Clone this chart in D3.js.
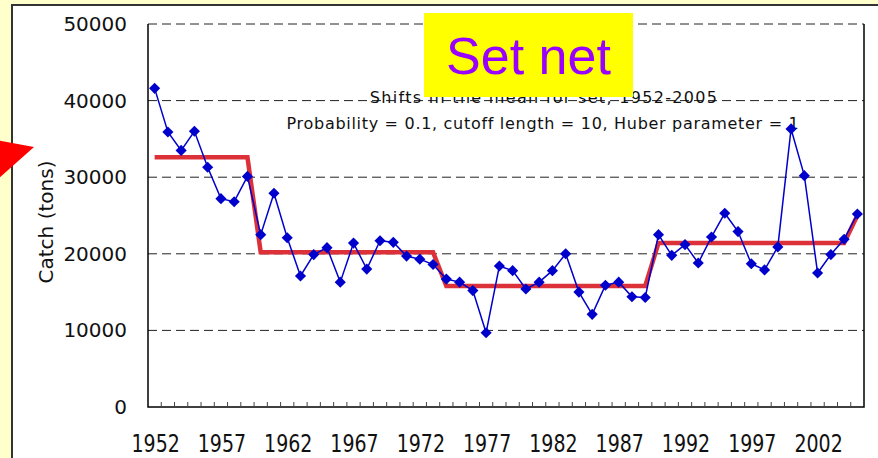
<!DOCTYPE html>
<html>
<head>
<meta charset="utf-8">
<script src="https://cdn.jsdelivr.net/npm/d3@7"></script>
<style>
  html, body { margin: 0; padding: 0; background: #FFFFCC; }
  svg { display: block; }
</style>
</head>
<body>
<div id="chart"></div>
<script>
// years on the category axis
var years = d3.range(1952, 2006);

// set net catch (tons)
var catchTons = [41600, 35900, 33500, 36000, 31300, 27200, 26800, 30100, 22500, 27900,
  22100, 17100, 19900, 20800, 16300, 21400, 18000, 21700, 21500, 19700,
  19300, 18600, 16700, 16300, 15200, 9700, 18400, 17800, 15400, 16300,
  17800, 20000, 15000, 12100, 15900, 16300, 14400, 14300, 22500, 19800,
  21200, 18800, 22200, 25300, 22900, 18700, 17900, 20900, 36300, 30200,
  17500, 19900, 21900, 25200];

// regime means (step line)
var regimeMean = [32600, 32600, 32600, 32600, 32600, 32600, 32600, 32600,
  20200, 20200, 20200, 20200, 20200, 20200, 20200, 20200, 20200, 20200, 20200, 20200, 20200, 20200,
  15800, 15800, 15800, 15800, 15800, 15800, 15800, 15800, 15800, 15800, 15800, 15800, 15800, 15800, 15800, 15800,
  21400, 21400, 21400, 21400, 21400, 21400, 21400, 21400, 21400, 21400, 21400, 21400, 21400, 21400, 21400,
  25000];

var yTicks = [0, 10000, 20000, 30000, 40000, 50000];
var xTickYears = [1952, 1957, 1962, 1967, 1972, 1977, 1982, 1987, 1992, 1997, 2002];

var W = 878, H = 458;
var plot = {left: 148, right: 864, top: 24, bottom: 407};

var svg = d3.select("#chart").append("svg")
  .attr("width", W).attr("height", H);

// yellow slide background + white panel
svg.append("rect").attr("width", W).attr("height", H).attr("fill", "#FFFFCC");
svg.append("rect")
  .attr("x", 12).attr("y", 5).attr("width", W).attr("height", H)
  .attr("fill", "#fff").attr("stroke", "#333").attr("stroke-width", 2);

// red arrow poking in from the left
svg.append("polygon")
  .attr("points", "-10,139 34,147 -10,186")
  .attr("fill", "#FF0000");

var x = d3.scaleBand().domain(years).range([plot.left, plot.right]);
var y = d3.scaleLinear().domain([0, 50000]).range([plot.bottom, plot.top]);
var cx = function(yr) { return x(yr) + x.bandwidth() / 2; };

// dashed gridlines
svg.append("g").selectAll("line")
  .data(yTicks.filter(function(d) { return d > 0; }))
  .enter().append("line")
  .attr("x1", plot.left).attr("x2", plot.right)
  .attr("y1", function(d) { return y(d); }).attr("y2", function(d) { return y(d); })
  .attr("stroke", "#222").attr("stroke-width", 1)
  .attr("stroke-dasharray", "9,5");

// subtitle texts
svg.append("text")
  .attr("x", 544).attr("y", 103)
  .attr("text-anchor", "middle")
  .style("font-family", "DejaVu Sans").style("font-size", "16px")
  .style("letter-spacing", "1.3px")
  .attr("fill", "#111")
  .text("Shifts in the mean for set, 1952-2005");
svg.append("text")
  .attr("x", 543).attr("y", 129)
  .attr("text-anchor", "middle")
  .style("font-family", "DejaVu Sans").style("font-size", "16px")
  .style("letter-spacing", "0.7px")
  .attr("fill", "#111")
  .text("Probability = 0.1, cutoff length = 10, Huber parameter = 1");

// axis frame: left, bottom and right sides
svg.append("path")
  .attr("d", "M" + plot.left + "," + plot.top + "V" + plot.bottom + "H" + plot.right + "V" + plot.top)
  .attr("fill", "none").attr("stroke", "#000").attr("stroke-width", 1.5);

// inward tick marks at category boundaries
svg.append("g").selectAll("line")
  .data(years.slice(1))
  .enter().append("line")
  .attr("x1", function(d) { return x(d); }).attr("x2", function(d) { return x(d); })
  .attr("y1", plot.bottom).attr("y2", plot.bottom - 5)
  .attr("stroke", "#444").attr("stroke-width", 1);

// y axis labels
var yAxis = svg.append("g")
  .attr("transform", "translate(" + plot.left + ",0)")
  .call(d3.axisLeft(y).tickValues(yTicks).tickSize(0).tickPadding(21).tickFormat(d3.format("d")));
yAxis.select(".domain").remove();
yAxis.selectAll("text")
  .style("font-family", "DejaVu Sans").style("font-size", "20px").attr("fill", "#111");

// x axis labels (tall, narrow digits like the original)
var xAxis = svg.append("g")
  .attr("transform", "translate(0," + plot.bottom + ")")
  .call(d3.axisBottom(x).tickValues(xTickYears).tickSize(0));
xAxis.select(".domain").remove();
xAxis.selectAll("text")
  .attr("y", 0).attr("dy", 0)
  .attr("transform", "translate(1,45) scale(0.95,1.2)")
  .style("font-family", "DejaVu Sans").style("font-size", "20px")
  .attr("fill", "#111");

// y axis title
svg.append("text")
  .attr("transform", "translate(53,222) rotate(-90)")
  .attr("text-anchor", "middle")
  .style("font-family", "DejaVu Sans").style("font-size", "20px")
  .attr("fill", "#111")
  .text("Catch (tons)");

// regime mean step line
svg.append("path")
  .datum(years)
  .attr("d", d3.line()
    .x(function(d) { return cx(d); })
    .y(function(d, i) { return y(regimeMean[i]); }))
  .attr("fill", "none").attr("stroke", "#DC3139").attr("stroke-width", 4.5);

// catch series
svg.append("path")
  .datum(years)
  .attr("d", d3.line()
    .x(function(d) { return cx(d); })
    .y(function(d, i) { return y(catchTons[i]); }))
  .attr("fill", "none").attr("stroke", "#0000CC").attr("stroke-width", 1.5);

svg.append("g").selectAll("path")
  .data(years)
  .enter().append("path")
  .attr("d", d3.symbol().type(d3.symbolSquare).size(62))
  .attr("transform", function(d, i) {
    return "translate(" + cx(d) + "," + y(catchTons[i]) + ") rotate(45)";
  })
  .attr("fill", "#0000CC");

// title box
svg.append("rect")
  .attr("x", 424).attr("y", 13).attr("width", 209).attr("height", 84)
  .attr("fill", "#FFFF00");
svg.append("text")
  .attr("x", 528.5).attr("y", 74)
  .attr("text-anchor", "middle")
  .style("font-family", "Liberation Sans, Arial").style("font-size", "52px")
  .attr("fill", "#9900FF")
  .text("Set net");
</script>
</body>
</html>
